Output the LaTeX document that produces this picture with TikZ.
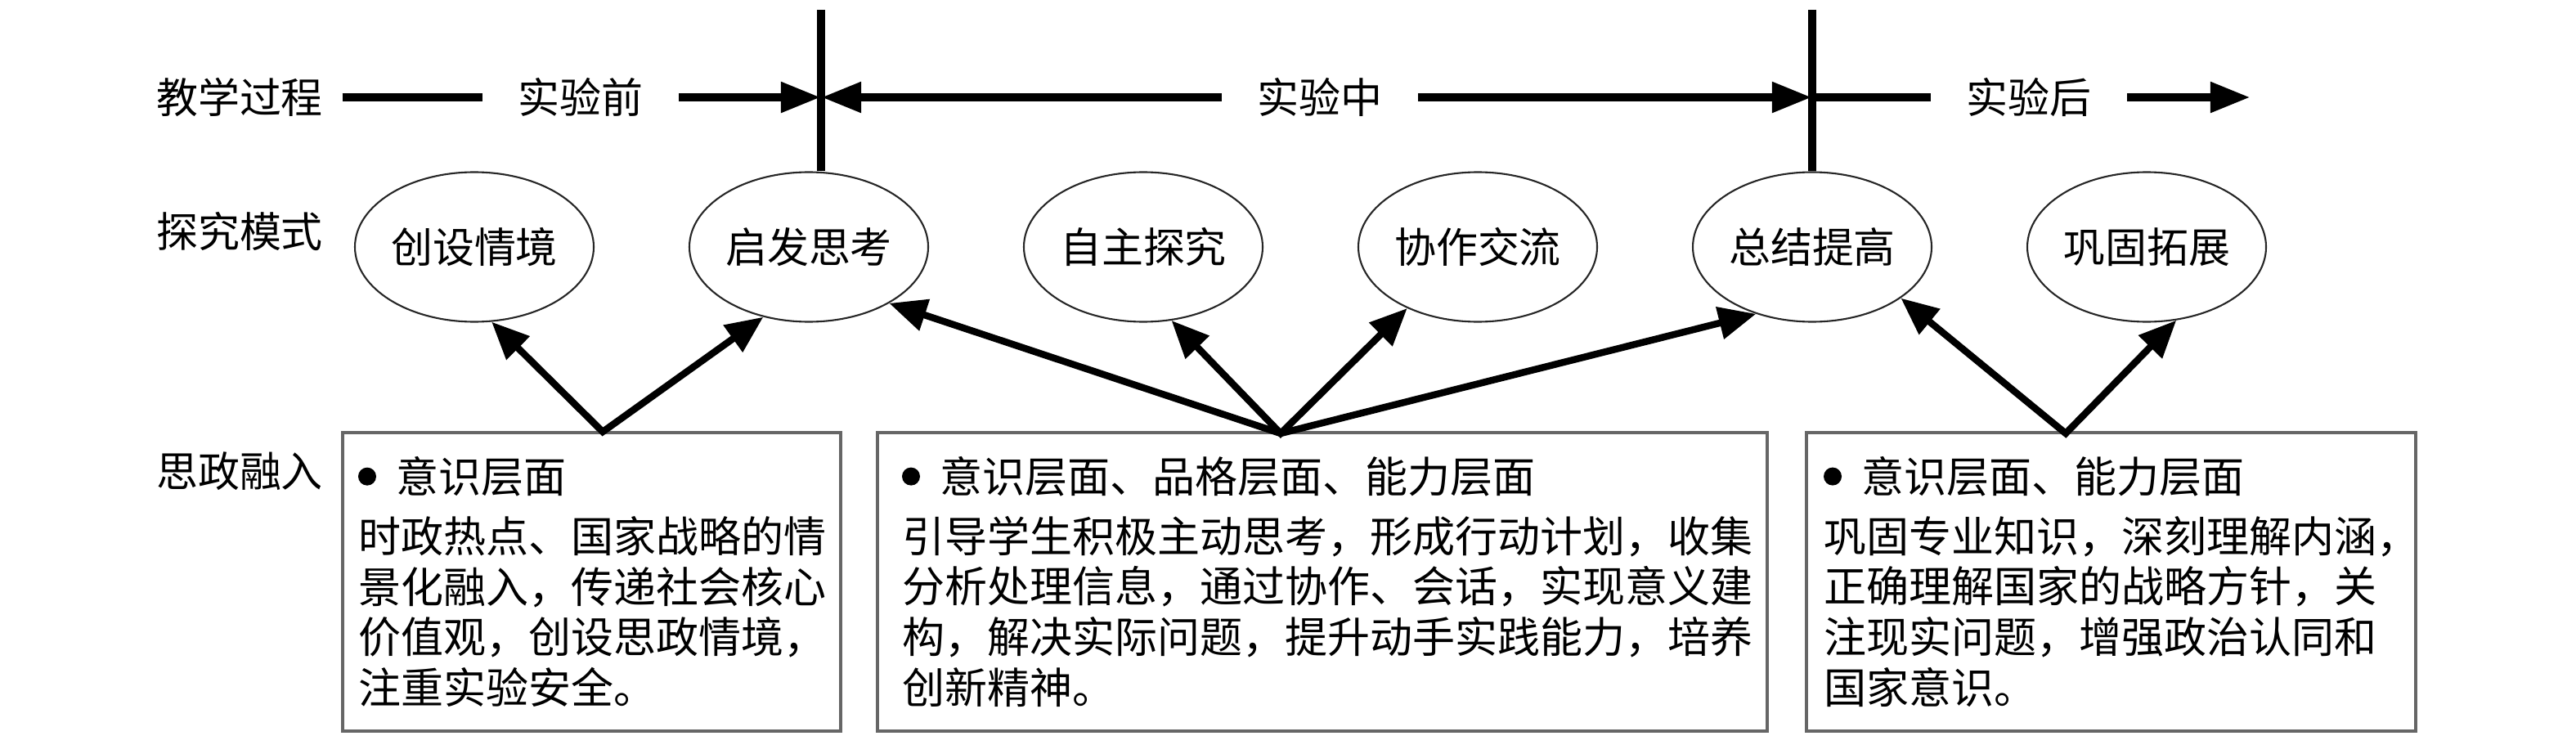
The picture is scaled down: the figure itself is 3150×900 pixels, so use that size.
\documentclass[tikz,border=0pt]{standalone}
\usepackage{fontspec}
\newfontfamily\cjk{Noto Sans CJK SC}
\usepackage{tikz}
\usetikzlibrary{shapes.geometric,arrows.meta,positioning}
\tikzstyle{rowlab} = [font=\cjk\fontsize{14.5pt}{17.6pt}\selectfont,inner xsep=2.3mm,inner ysep=0]
\tikzstyle{phase} = [font=\cjk\fontsize{14.5pt}{17.6pt}\selectfont,inner xsep=4.3mm,inner ysep=0]
\tikzstyle{oval} = [draw=black!85,line width=0.6pt,ellipse,inner sep=0,minimum width=29.2mm,minimum height=18.3mm,font=\cjk\fontsize{14.5pt}{17.6pt}\selectfont]
\tikzstyle{panel} = [draw=black!60,line width=1pt,rectangle,inner ysep=0,minimum height=36.5mm,align=left,font=\cjk\fontsize{14.8pt}{17.6pt}\selectfont]
\tikzstyle{track} = [line width=3.1pt]
\tikzstyle{divider} = [line width=2.6pt]
\tikzstyle{feed} = [line width=2.4pt,{Triangle[length=13pt,width=11pt]}-{Triangle[length=13pt,width=11pt]}]
\def \tip {Triangle[length=14pt,width=10pt]}
\def \bdot {\tikz[baseline=-0.38em]\fill (0,0) circle (1.1mm);\hspace{7pt}}

\begin{document}
\begin{tikzpicture}[x=0.1mm,y=-0.1mm]
  \useasboundingbox (0,0) rectangle (3150,900);
  % row labels
  \node[rowlab] (lp) at (293,119) {教学过程};
  \node[rowlab] (lm) at (293,283) {探究模式};
  \node[rowlab] (li) at (293,576) {思政融入};
  % phases
  \node[phase] (pre) at (710,119) {实验前};
  \node[phase] (mid) at (1614,119) {实验中};
  \node[phase] (post) at (2481,119) {实验后};
  % inquiry steps
  \node[oval] (e1) at (580,302) {创设情境};
  \node[oval] (e2) at (989,302) {启发思考};
  \node[oval] (e3) at (1398,302) {自主探究};
  \node[oval] (e4) at (1807,302) {协作交流};
  \node[oval] (e5) at (2216,302) {总结提高};
  \node[oval] (e6) at (2625,302) {巩固拓展};
  % time line
  \coordinate (v1) at (1004,12);
  \coordinate (v2) at (2216,12);
  \coordinate (x1) at (v1 |- pre);
  \coordinate (x2) at (v2 |- pre);
  \coordinate (fin) at (2752,119);
  \draw[divider] (v1) -- (v1 |- e2.north);
  \draw[divider] (v2) -- (e5.north);
  \draw[track] (lp.east) -- (pre.west);
  \draw[track,-{\tip}] (pre.east) -- (x1);
  \draw[track,-{\tip}] (mid.west) -- (x1);
  \draw[track,-{\tip}] (mid.east) -- (x2);
  \draw[track] (x2) -- (post.west);
  \draw[track,-{\tip}] (post.east) -- (fin);
  % panels
  \node[panel,text width=57.1mm,inner xsep=1.9mm] (b1) at (723.5,711.5) {\bdot 意识层面\\[3.1pt]
    时政热点、国家战略的情\\
    景化融入，传递社会核心\\
    价值观，创设思政情境，\\
    注重实验安全。};
  \node[panel,text width=102.8mm,inner xsep=3mm] (b2) at (1617,711.5) {\bdot 意识层面、品格层面、能力层面\\[3.1pt]
    引导学生积极主动思考，形成行动计划，收集\\
    分析处理信息，通过协作、会话，实现意义建\\
    构，解决实际问题，提升动手实践能力，培养\\
    创新精神。};
  \node[panel,text width=70.3mm,inner xsep=2.1mm] (b3) at (2581.5,711.5) {\bdot 意识层面、能力层面\\[3.1pt]
    巩固专业知识，深刻理解内涵，\\
    正确理解国家的战略方针，关\\
    注现实问题，增强政治认同和\\
    国家意识。};
  % links
  \coordinate (s1) at (737,528);
  \coordinate (s2) at (1566,530);
  \coordinate (s3) at (2526,530);
  \draw[feed] (e1.-77.5) -- (s1) -- (e2.-123);
  \draw[feed] (e2.-35.6) -- (s2) -- (e5.-130.6);
  \draw[feed] (e3.-69.4) -- (s2) -- (e4.-139);
  \draw[feed] (e5.-30.3) -- (s3) -- (e6.-68);
\end{tikzpicture}
\end{document}
